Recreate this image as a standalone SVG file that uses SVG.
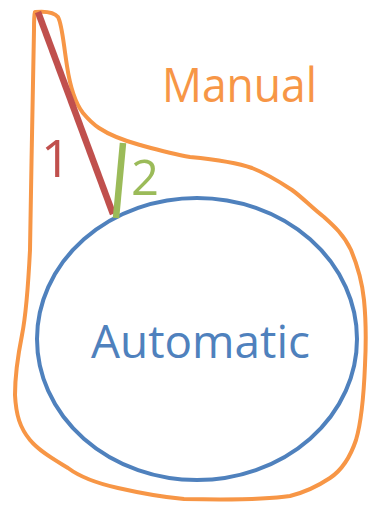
<svg xmlns="http://www.w3.org/2000/svg" width="368" height="505" viewBox="0 0 368 505">
<style>
.lbl{font-family:"Open Sans","Noto Sans","Liberation Sans",sans-serif;}
</style>
<rect width="368" height="505" fill="#ffffff"/>
<g id="manual">
<path d="M35,12 C45,11 54,12 58,17 C62,24 63,40 67,66 C70,86 76,104 83,113 C88,119 93,124 99,128 C108,134 122,140 140,145 C158,150 172,154 190,157 C210,159 235,162 252,168 C265,173 280,182 292,190 C302,197 312,208 324,217 C334,226 344,235 351,250 C356,262 362,280 364,300 C366,320 366,345 365,365 C364,390 362,420 356,440 C350,458 342,470 330,478 C318,486 306,492 290,496 C270,499 230,500 184,499 C160,497 140,493 118,488 C100,484 80,477 68,468 C55,460 40,452 30,440 C20,428 16,415 15,395 C15,375 18,355 22,335 C26,315 28,290 30,250 C31,180 33,90 34,30 C34,20 34,15 35,12 Z" fill="none" stroke="#F79646" stroke-width="4" stroke-linejoin="round"/>
<text class="lbl" x="162" y="102" font-size="47" fill="#F79646" textLength="155" lengthAdjust="spacingAndGlyphs">Manual</text>
</g>
<g id="automatic">
<ellipse cx="197" cy="339" rx="160" ry="141" fill="none" stroke="#4F81BD" stroke-width="4"/>
<text class="lbl" x="91" y="358" font-size="46" fill="#4F81BD" textLength="219" lengthAdjust="spacingAndGlyphs">Automatic</text>
</g>
<g id="connectors">
<line x1="38" y1="12" x2="113" y2="214" stroke="#C0504D" stroke-width="6.5" stroke-linecap="butt"/>
<line x1="123" y1="143" x2="116" y2="218" stroke="#9BBB59" stroke-width="6.5" stroke-linecap="butt"/>
</g>
<g id="label1">
<text class="lbl" x="41" y="177" font-size="52" fill="#C0504D">1</text>
</g>
<g id="label2">
<text class="lbl" x="131" y="195" font-size="49" fill="#9BBB59">2</text>
</g>
</svg>
